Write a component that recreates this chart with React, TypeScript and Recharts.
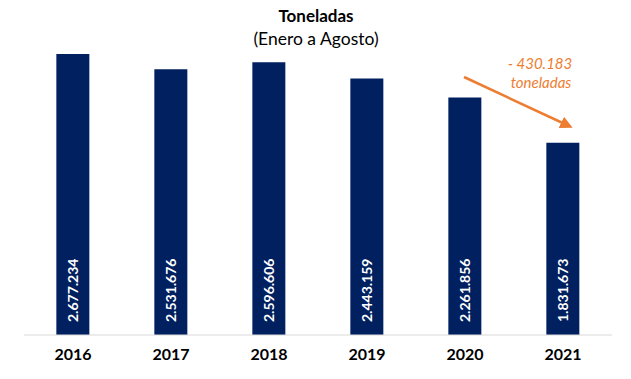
import { BarChart, Bar, XAxis, YAxis, LabelList } from "recharts"

const YEARS = ["2016", "2017", "2018", "2019", "2020", "2021"]
const TONS = [2677234, 2531676, 2596606, 2443159, 2261856, 1831673]
const TON_LABELS = ["2.677.234", "2.531.676", "2.596.606", "2.443.159", "2.261.856", "1.831.673"]

const NAVY = "#002060"
const ORANGE = "#ED7D31"
const FONT = "Lato, 'Open Sans', sans-serif"

const data = YEARS.map((year, i) => ({ year, tons: TONS[i], label: TON_LABELS[i] }))

const BASE_Y = 335

function VerticalLabel(props: any) {
    const { x, width, value } = props
    const cx = x + width / 2
    const y = BASE_Y - 13
    return (
        <text
            x={cx}
            y={y}
            transform={`rotate(-90, ${cx}, ${y})`}
            fill="#ffffff"
            fontFamily={FONT}
            fontWeight={700}
            fontSize={14}
            textAnchor="start"
            dominantBaseline="central"
        >
            {value}
        </text>
    )
}

export default function App() {
    return (
        <div style={{ position: "absolute", left: 0, top: 0, width: 631, height: 379, background: "#fff" }}>
            <BarChart
                width={631}
                height={379}
                data={data}
                margin={{ top: 20, right: 19, left: 24, bottom: 14 }}
                barCategoryGap="33%"
            >
                <XAxis
                    dataKey="year"
                    height={30}
                    axisLine={{ stroke: "#d9d9d9", strokeWidth: 1 }}
                    tickLine={false}
                    tick={{ fill: "#000", fontFamily: FONT, fontWeight: 700, fontSize: 16 }}
                    tickMargin={8}
                />
                <YAxis hide domain={[0, 3000000]} />
                <Bar dataKey="tons" fill={NAVY} isAnimationActive={false}>
                    <LabelList dataKey="label" content={<VerticalLabel />} />
                </Bar>
            </BarChart>
            <svg
                width={631}
                height={379}
                style={{ position: "absolute", left: 0, top: 0, pointerEvents: "none" }}
            >
                <defs>
                    <marker id="arrowHead" markerWidth="5" markerHeight="5" refX="2.5" refY="2.5" orient="auto" markerUnits="strokeWidth">
                        <path d="M0,0 L5,2.5 L0,5 Z" fill={ORANGE} />
                    </marker>
                </defs>
                <text x={316} y={15} textAnchor="middle" dominantBaseline="central" fontFamily={FONT} fontWeight={700} fontSize={17} fill="#000">
                    Toneladas
                </text>
                <text x={316} y={38} textAnchor="middle" dominantBaseline="central" fontFamily={FONT} fontSize={17.5} fill="#000">
                    (Enero a Agosto)
                </text>
                <text x={540} y={63} textAnchor="middle" dominantBaseline="central" fontFamily={FONT} fontStyle="italic" fontSize={15} fill={ORANGE}>
                    - 430.183
                </text>
                <text x={541} y={82} textAnchor="middle" dominantBaseline="central" fontFamily={FONT} fontStyle="italic" fontSize={15} fill={ORANGE}>
                    toneladas
                </text>
                <line x1={464} y1={77} x2={567} y2={125} stroke={ORANGE} strokeWidth={2.5} markerEnd="url(#arrowHead)" />
            </svg>
        </div>
    )
}
